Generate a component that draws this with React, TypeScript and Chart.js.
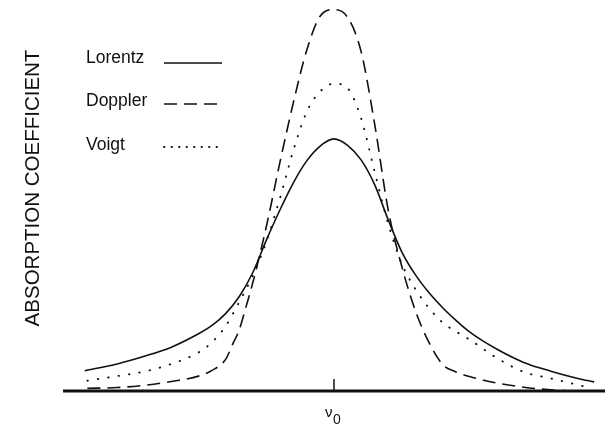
import React, { useEffect, useRef } from "react";
import { Chart, registerables } from "chart.js";

Chart.register(...registerables);

// Frequency offset from line centre (arbitrary units) and absorption coefficient (arbitrary units)
const xLorentz = [-9.2, -8, -7, -6, -5, -4.5, -4, -3.5, -3, -2.5, -2, -1.5, -1, -0.5, 0, 0.5, 1, 1.5, 2, 2.5, 3, 3.5, 4, 4.5, 5, 6, 7, 8, 9, 9.6];
const lorentz = [0.53, 0.71, 0.91, 1.15, 1.5, 1.72, 2.03, 2.47, 3.1, 3.95, 4.74, 5.46, 6.04, 6.43, 6.61, 6.44, 6.06, 5.41, 4.49, 3.65, 3.05, 2.58, 2.19, 1.85, 1.55, 1.1, 0.75, 0.52, 0.33, 0.24];

const xDoppler = [-9.1, -8, -7, -6, -5, -4.5, -4, -3.75, -3.5, -3.25, -3, -2.5, -2, -1.5, -1, -0.5, 0, 0.5, 1, 1.5, 2, 2.5, 3, 3.5, 4, 4.5, 5, 6, 7, 8, 8.5];
const doppler = [0.07, 0.09, 0.15, 0.25, 0.39, 0.54, 0.83, 1.21, 1.6, 2.2, 2.83, 4.3, 5.98, 7.56, 8.95, 9.84, 10.0, 9.8, 8.9, 7.0, 4.75, 3.27, 2.11, 1.28, 0.7, 0.5, 0.38, 0.21, 0.1, 0.03, 0.01];

const xVoigt = [-9.1, -8, -7, -6, -5, -4.5, -4, -3.5, -3, -2.5, -2, -1.5, -1, -0.5, 0, 0.5, 1, 1.5, 2, 2.5, 3, 3.5, 4, 4.5, 5, 6, 7, 8, 9, 9.3];
const voigt = [0.27, 0.39, 0.51, 0.71, 1.01, 1.28, 1.7, 2.33, 3.02, 3.91, 5.04, 6.31, 7.33, 7.86, 8.06, 7.94, 7.15, 5.75, 4.38, 3.34, 2.68, 2.18, 1.8, 1.56, 1.35, 0.87, 0.5, 0.33, 0.16, 0.11];

const seriesNames = ["Lorentz", "Doppler", "Voigt"];
const yAxisTitle = "ABSORPTION COEFFICIENT";
const centreTickValue = 0;
const centreTickLabel = "ν";
const centreTickSub = "0";

const INK = "#111111";
const FONT = "'Liberation Sans', Arial, Helvetica, sans-serif";

function toPoints(xs: number[], ys: number[]) {
  return xs.map((x, i) => ({ x, y: ys[i] }));
}

export default function App() {
  const ref = useRef<HTMLCanvasElement | null>(null);

  useEffect(() => {
    document.body.style.margin = "0";
    const canvas = ref.current;
    if (!canvas) return;

    const curveDashes: number[][] = [[], [13, 7], [0.5, 10]];
    const legendDashes: number[][] = [[], [13, 7], [0.5, 7]];

    const overlay = {
      id: "overlay",
      afterDatasetsDraw(chart: any) {
        const { ctx, chartArea, scales } = chart;
        const xs = scales.x;
        const ys = scales.y;
        const y0 = ys.getPixelForValue(0);
        ctx.save();

        // x axis line
        ctx.strokeStyle = INK;
        ctx.setLineDash([]);
        ctx.lineWidth = 3;
        ctx.beginPath();
        ctx.moveTo(chartArea.left, y0);
        ctx.lineTo(chart.width, y0);
        ctx.stroke();

        // centre tick
        const xc = xs.getPixelForValue(centreTickValue);
        ctx.lineWidth = 1.5;
        ctx.beginPath();
        ctx.moveTo(xc, y0);
        ctx.lineTo(xc, y0 - 12);
        ctx.stroke();

        // tick label nu_0
        ctx.fillStyle = INK;
        ctx.textBaseline = "alphabetic";
        ctx.textAlign = "left";
        ctx.font = `15px ${FONT}`;
        ctx.fillText(centreTickLabel, xc - 9, y0 + 26);
        ctx.font = `14px ${FONT}`;
        ctx.fillText(centreTickSub, xc - 1, y0 + 33);

        // y axis title
        ctx.save();
        ctx.translate(38.5, 188);
        ctx.rotate(-Math.PI / 2);
        ctx.textAlign = "center";
        ctx.textBaseline = "alphabetic";
        ctx.font = `20.5px ${FONT}`;
        ctx.fillText(yAxisTitle, 0, 0);
        ctx.restore();

        // legend
        const baselines = [63, 106, 150];
        const lineYs = [63, 104, 147];
        ctx.font = `17.5px ${FONT}`;
        ctx.textAlign = "left";
        ctx.textBaseline = "alphabetic";
        seriesNames.forEach((name, i) => {
          ctx.fillStyle = INK;
          ctx.fillText(name, 86, baselines[i]);
          ctx.strokeStyle = INK;
          ctx.lineWidth = i === 2 ? 1.8 : 1.6;
          ctx.lineCap = i === 2 ? "round" : "butt";
          ctx.setLineDash(legendDashes[i]);
          ctx.beginPath();
          ctx.moveTo(164, lineYs[i]);
          ctx.lineTo(222, lineYs[i]);
          ctx.stroke();
        });
        ctx.restore();
      },
    };

    const chart = new Chart(canvas, {
      type: "line",
      data: {
        datasets: [
          {
            label: seriesNames[0],
            data: toPoints(xLorentz, lorentz),
            borderColor: INK,
            borderWidth: 1.6,
            borderDash: curveDashes[0],
            cubicInterpolationMode: "monotone",
            pointRadius: 0,
            fill: false,
          },
          {
            label: seriesNames[1],
            data: toPoints(xDoppler, doppler),
            borderColor: INK,
            borderWidth: 1.6,
            borderDash: curveDashes[1],
            cubicInterpolationMode: "monotone",
            pointRadius: 0,
            fill: false,
          },
          {
            label: seriesNames[2],
            data: toPoints(xVoigt, voigt),
            borderColor: INK,
            borderWidth: 1.9,
            borderDash: curveDashes[2],
            borderCapStyle: "round",
            cubicInterpolationMode: "monotone",
            pointRadius: 0,
            fill: false,
          },
        ],
      },
      options: {
        animation: false,
        responsive: false,
        maintainAspectRatio: false,
        events: [],
        layout: { padding: { left: 63, right: 0, top: 2, bottom: 35 } },
        scales: {
          x: { type: "linear", min: -10, max: 10, display: false },
          y: { type: "linear", min: 0, max: 10.2, display: false },
        },
        plugins: { legend: { display: false }, tooltip: { enabled: false } },
      },
      plugins: [overlay],
    } as any);

    return () => chart.destroy();
  }, []);

  return (
    <div style={{ width: 605, height: 426, background: "#fff" }}>
      <canvas ref={ref} width={605} height={426} style={{ display: "block" }} />
    </div>
  );
}
